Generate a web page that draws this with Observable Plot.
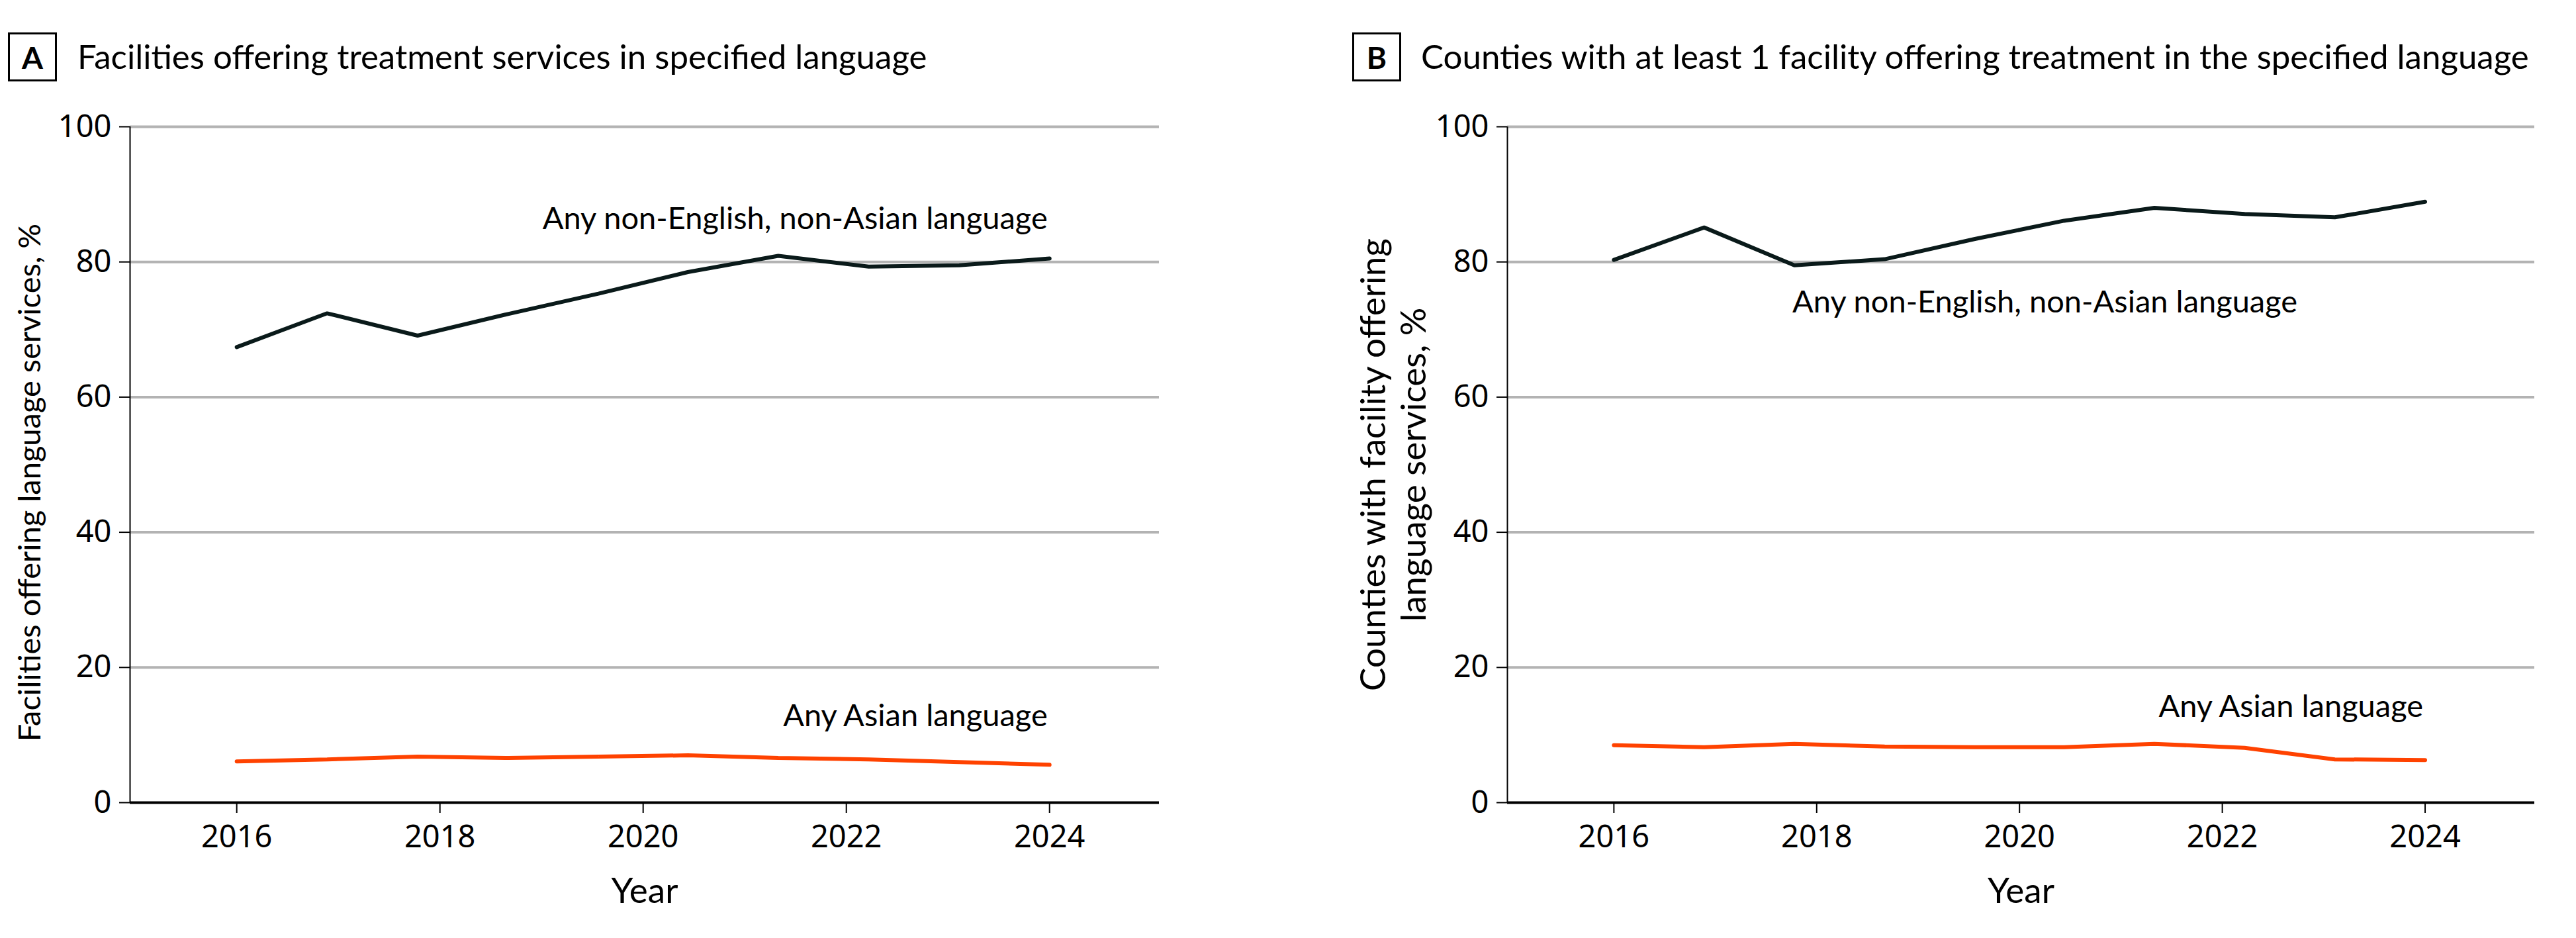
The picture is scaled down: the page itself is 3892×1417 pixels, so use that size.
<!DOCTYPE html>
<html>
<head>
<meta charset="utf-8">
<script src="https://cdn.jsdelivr.net/npm/d3@7"></script>
<script src="https://cdn.jsdelivr.net/npm/@observablehq/plot@0.6"></script>
<style>
  html, body { margin: 0; padding: 0; background: #fff; }
  #wrap { position: relative; width: 3892px; height: 1417px; overflow: hidden; font-family: Lato, sans-serif; color: #000; }
  .panel { position: absolute; top: 0; width: 1946px; height: 1417px; }
  .badge { position: absolute; top: 49px; width: 74px; height: 74px; box-sizing: border-box; border: 3px solid #000;
           display: flex; align-items: center; justify-content: center; font: 700 46px Lato, sans-serif; }
  .title { position: absolute; top: 59px; font: 400 51px Lato, sans-serif; line-height: 51px; white-space: nowrap; }
  .chart { position: absolute; left: 0; top: 140px; }
</style>
</head>
<body>
<div id="wrap">
  <div class="panel" id="pA" style="left:0px">
    <div class="badge" style="left:12px">A</div>
    <div class="title" style="left:117px">Facilities offering treatment services in specified language</div>
    <div class="chart" id="chartA"></div>
  </div>
  <div class="panel" id="pB" style="left:1946px">
    <div class="badge" style="left:97px">B</div>
    <div class="title" style="left:201px">Counties with at least 1 facility offering treatment in the specified language</div>
    <div class="chart" id="chartB"></div>
  </div>
</div>
<script>
// ---- data ----
const surveyYears = [2016, 2016.89, 2017.78, 2018.67, 2019.56, 2020.44, 2021.33, 2022.22, 2023.11, 2024];

const facilitiesNonAsian = [67.4, 72.4, 69.1, 72.3, 75.3, 78.5, 80.9, 79.3, 79.5, 80.5];
const facilitiesAsian    = [6.1, 6.4, 6.8, 6.6, 6.8, 7.0, 6.6, 6.4, 6.0, 5.6];

const countiesNonAsian = [80.3, 85.1, 79.5, 80.4, 83.4, 86.1, 88.0, 87.1, 86.6, 88.9];
const countiesAsian    = [8.5, 8.2, 8.7, 8.3, 8.2, 8.2, 8.7, 8.1, 6.4, 6.3];

const xTicks = [2016, 2018, 2020, 2022, 2024];
const yTicks = [0, 20, 40, 60, 80, 100];
const gridTicks = [20, 40, 60, 80, 100];

const labelNonAsian = "Any non-English, non-Asian language";
const labelAsian = "Any Asian language";
const xTitle = "Year";
const yTitleA = "Facilities offering language services, %";
const yTitleB = "Counties with facility offering\nlanguage services, %";

// ---- styling ----
const BLACK_LINE = "#0a1a1a";
const ORANGE_LINE = "#ff4200";
const xDomain = [2014.95, 2025.08];
const TEXT_FONT = "Lato, sans-serif";
const TICK_FONT = "'Noto Sans', sans-serif";
const ANNOT_SIZE = 47;

function toRows(values) {
  return surveyYears.map((year, i) => ({year, value: values[i]}));
}

function makePanel({nonAsian, asian, yTitle, yTitleSize, marginLeft, marginRight, yTitleDx, yTitleDy, blackLabel, asianDy}) {
  const black = toRows(nonAsian);
  const orange = toRows(asian);
  return Plot.plot({
    width: 1946,
    height: 1277,
    marginTop: 51,
    marginBottom: 205,
    marginLeft,
    marginRight,
    style: {background: "white", color: "black", fontFamily: TEXT_FONT, overflow: "visible"},
    x: {domain: xDomain},
    y: {domain: [0, 100]},
    marks: [
      Plot.gridY(gridTicks, {stroke: "#b3b3b3", strokeOpacity: 1, strokeWidth: 4}),
      Plot.ruleX([xDomain[0]], {y1: 0, y2: 100, stroke: "#000", strokeWidth: 2}),
      Plot.axisY({ticks: yTicks, tickSize: 16, tickPadding: 12, strokeWidth: 2, fontSize: 47,
                  fontFamily: TICK_FONT, label: null}),
      Plot.axisX({ticks: xTicks, tickFormat: d => String(d), tickSize: 16, tickPadding: 18, strokeWidth: 2,
                  fontSize: 47, fontFamily: TICK_FONT, label: null}),
      Plot.ruleY([0], {stroke: "#000", strokeWidth: 4}),
      Plot.line(orange, {x: "year", y: "value", stroke: ORANGE_LINE, strokeWidth: 6, strokeLinejoin: "miter"}),
      Plot.line(black, {x: "year", y: "value", stroke: BLACK_LINE, strokeWidth: 6, strokeLinejoin: "miter"}),
      blackLabel(black),
      Plot.text([orange[orange.length - 1]], {x: "year", y: "value", text: () => labelAsian,
                  textAnchor: "end", lineAnchor: "bottom", dx: -3, dy: asianDy,
                  fontSize: ANNOT_SIZE, fontFamily: TEXT_FONT, fill: "#000"}),
      Plot.text([xTitle], {text: d => d, frameAnchor: "bottom", lineAnchor: "bottom", dy: 151,
                  fontSize: 53, fontFamily: TEXT_FONT, fill: "#000"}),
      Plot.text([yTitle], {text: d => d, frameAnchor: "left", rotate: -90, textAnchor: "middle",
                  lineAnchor: "bottom", lineHeight: 1.15, dx: yTitleDx, dy: yTitleDy,
                  fontSize: yTitleSize, fontFamily: TEXT_FONT, fill: "#000"})
    ]
  });
}

const blackLabelA = rows => Plot.text([rows[rows.length - 1]], {x: "year", y: "value", text: () => labelNonAsian,
  textAnchor: "end", lineAnchor: "bottom", dx: -3, dy: -45, fontSize: ANNOT_SIZE, fontFamily: TEXT_FONT, fill: "#000"});

const blackLabelB = rows => Plot.text([rows[2]], {x: "year", y: "value", text: () => labelNonAsian,
  textAnchor: "start", lineAnchor: "bottom", dx: -3, dy: 71, fontSize: ANNOT_SIZE, fontFamily: TEXT_FONT, fill: "#000"});

document.getElementById("chartA").append(makePanel({
  nonAsian: facilitiesNonAsian, asian: facilitiesAsian, yTitle: yTitleA, yTitleSize: 47,
  marginLeft: 196, marginRight: 195, yTitleDx: -136, yTitleDy: 27, blackLabel: blackLabelA, asianDy: -58
}));
document.getElementById("chartB").append(makePanel({
  nonAsian: countiesNonAsian, asian: countiesAsian, yTitle: yTitleB, yTitleSize: 53,
  marginLeft: 331, marginRight: 63, yTitleDx: -124, yTitleDy: 0, blackLabel: blackLabelB, asianDy: -65
}));
</script>
</body>
</html>
